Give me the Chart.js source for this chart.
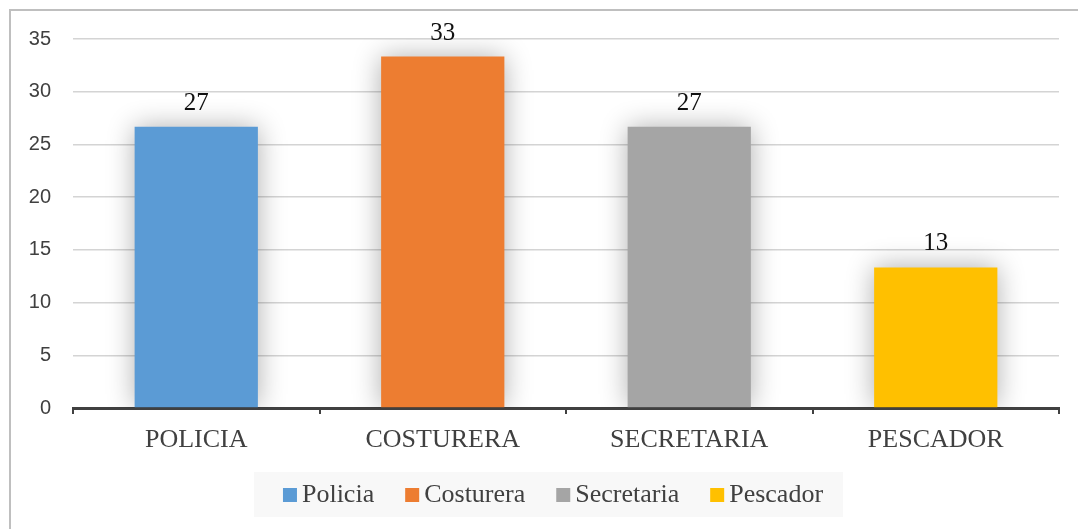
<!DOCTYPE html>
<html>
<head>
<meta charset="utf-8">
<script src="https://cdn.jsdelivr.net/npm/chart.js@4/dist/chart.umd.min.js"></script>
<style>
  html, body { margin: 0; padding: 0; background: #fff; }
  #wrap { width: 1078px; height: 529px; }
</style>
</head>
<body>
<div id="wrap"><canvas id="chart" width="1078" height="529"></canvas></div>
<script>
// Categories on the x axis
const categories = ['POLICIA', 'COSTURERA', 'SECRETARIA', 'PESCADOR'];
// Legend names for each bar
const seriesNames = ['Policia', 'Costurera', 'Secretaria', 'Pescador'];
// Percent values per category
const values = [26.67, 33.33, 26.67, 13.33];
// Bar fills
const barColors = ['#5B9BD5', '#ED7D31', '#A5A5A5', '#FFC000'];
// Y axis range and step
const yMax = 35;
const yStep = 5;

const SERIF = '"Liberation Serif", "Times New Roman", serif';
const SANS = '"Liberation Sans", Arial, sans-serif';

// Soft glow behind the bars
const barGlow = {
  id: 'barGlow',
  beforeDatasetsDraw(chart) {
    const ctx = chart.ctx;
    ctx.save();
    ctx.shadowColor = 'rgba(0,0,0,0.32)';
    ctx.shadowBlur = 26;
    ctx.shadowOffsetX = 0;
    ctx.shadowOffsetY = 0;
  },
  afterDatasetsDraw(chart) {
    chart.ctx.restore();
  }
};

// Value labels above each bar, the outer frame and the legend box
const decorations = {
  id: 'decorations',
  afterDatasetsDraw(chart) {
    const ctx = chart.ctx;
    const meta = chart.getDatasetMeta(0);
    ctx.save();
    ctx.font = '25px ' + SERIF;
    ctx.fillStyle = '#111';
    ctx.textAlign = 'center';
    ctx.textBaseline = 'alphabetic';
    meta.data.forEach((bar, i) => {
      ctx.fillText(String(Math.round(values[i])), bar.x, bar.y - 17);
    });
    ctx.restore();
  },
  afterDraw(chart) {
    const ctx = chart.ctx;
    ctx.save();
    // outer frame
    ctx.strokeStyle = '#BFBFBF';
    ctx.lineWidth = 2;
    ctx.strokeRect(10, 10, 1100, 560);

    // legend
    ctx.font = '26px ' + SERIF;
    const box = 14, gap = 5, spacing = 31;
    const widths = seriesNames.map(n => ctx.measureText(n).width);
    let total = 0;
    widths.forEach((w, i) => { total += box + gap + w + (i < widths.length - 1 ? spacing : 0); });
    const cx = 553;
    let x = cx - total / 2;
    const cy = 495;
    ctx.fillStyle = '#F8F8F8';
    ctx.fillRect(x - 29, 472, total + 49, 45);
    ctx.textBaseline = 'middle';
    ctx.textAlign = 'left';
    seriesNames.forEach((n, i) => {
      ctx.fillStyle = barColors[i];
      ctx.fillRect(x, cy - 7, box, box);
      ctx.fillStyle = '#404040';
      ctx.fillText(n, x + box + gap, cy);
      x += box + gap + widths[i] + spacing;
    });
    ctx.restore();
  }
};

new Chart(document.getElementById('chart'), {
  type: 'bar',
  data: {
    labels: categories,
    datasets: [{
      data: values,
      backgroundColor: barColors,
      borderWidth: 0,
      categoryPercentage: 1.0,
      barPercentage: 0.5
    }]
  },
  options: {
    responsive: false,
    devicePixelRatio: 1,
    animation: false,
    layout: { padding: { left: 0, right: 19, top: 39, bottom: 71 } },
    plugins: {
      legend: { display: false },
      tooltip: { enabled: false }
    },
    scales: {
      x: {
        offset: true,
        grid: {
          display: true,
          offset: true,
          drawOnChartArea: false,
          drawTicks: true,
          tickLength: 6,
          color: '#404040',
          lineWidth: 2
        },
        border: { display: true, color: '#404040', width: 3 },
        ticks: {
          color: '#404040',
          font: { family: SERIF, size: 26 },
          padding: 11,
          maxRotation: 0
        },
        afterFit(scale) { scale.height = 50; }
      },
      y: {
        min: 0,
        max: yMax,
        grid: {
          color: '#D4D4D4',
          lineWidth: 1.5,
          drawTicks: false
        },
        border: { display: false },
        ticks: {
          stepSize: yStep,
          color: '#404040',
          font: { family: SANS, size: 20 },
          padding: 22
        },
        afterFit(scale) { scale.width = 73; }
      }
    }
  },
  plugins: [barGlow, decorations]
});
</script>
</body>
</html>
